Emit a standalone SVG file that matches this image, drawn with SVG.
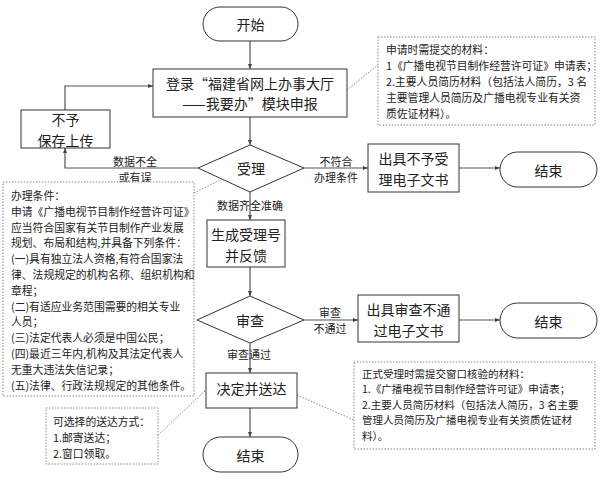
<svg xmlns="http://www.w3.org/2000/svg" width="600" height="504" viewBox="0 0 600 504">
<style>
text{font-family:"Noto Sans CJK SC","Noto Sans",sans-serif;fill:#222;dominant-baseline:central}
.n{fill:#fff;stroke:#333;stroke-width:1}
.t{font-size:14px;text-anchor:middle}
.lbl{font-size:11px;text-anchor:middle}
.note{fill:#fff;stroke:#888;stroke-width:1;stroke-dasharray:1.5,1.5}
.nt{font-size:10.8px}
.nt4{font-size:10.5px}
.c{fill:none;stroke:#555;stroke-width:1.2}
.d{fill:none;stroke:#888;stroke-width:1;stroke-dasharray:1.5,1.5}
</style>
<defs>
<marker id="a" viewBox="0 0 10 10" refX="10" refY="5" markerWidth="5" markerHeight="5" orient="auto" markerUnits="userSpaceOnUse">
<path d="M0,1 L10,5 L0,9 z" fill="#444"/>
</marker>
</defs>
<rect width="600" height="504" fill="#fff"/>
<g id="connectors">
<path class="c" d="M250,41 V69" marker-end="url(#a)"/>
<path class="c" d="M250,117 V145" marker-end="url(#a)"/>
<path class="c" d="M198,168 H65 V148" marker-end="url(#a)"/>
<path class="c" d="M65,110 V86 H153" marker-end="url(#a)"/>
<path class="c" d="M304,168 H368" marker-end="url(#a)"/>
<path class="c" d="M459,168 H500" marker-end="url(#a)"/>
<path class="c" d="M250,192 V220" marker-end="url(#a)"/>
<path class="c" d="M250,267 V296" marker-end="url(#a)"/>
<path class="c" d="M304,320 H358" marker-end="url(#a)"/>
<path class="c" d="M459,320 H500" marker-end="url(#a)"/>
<path class="c" d="M250,343 V373" marker-end="url(#a)"/>
<path class="c" d="M250,408 V437" marker-end="url(#a)"/>
<path class="d" d="M347,90 L378,65"/>
<path class="d" d="M194,193 L220,180"/>
<path class="d" d="M158,435 L206,390"/>
<path class="d" d="M297,395 L354,420"/>
<text class="lbl" x="135" y="161">数据不全</text>
<text class="lbl" x="135" y="177">或有误</text>
<text class="lbl" x="336" y="161">不符合</text>
<text class="lbl" x="336" y="177">办理条件</text>
<text class="lbl" x="250" y="205">数据齐全准确</text>
<text class="lbl" x="330" y="312">审查</text>
<text class="lbl" x="330" y="328">不通过</text>
<text class="lbl" x="249" y="354">审查通过</text>
</g>
<g id="start">
<rect class="n" x="203" y="7" width="95" height="34" rx="17"/>
<text class="t" x="250.5" y="24">开始</text>
</g>
<g id="login">
<rect class="n" x="153" y="69" width="194" height="48"/>
<text class="t" x="250" y="82.5">登录“福建省网上办事大厅</text>
<text class="t" x="250" y="103">——我要办”模块申报</text>
</g>
<g id="note1">
<rect class="note" x="378" y="37" width="217" height="88"/>
<text class="nt" x="386" y="49">申请时需提交的材料：</text>
<text class="nt" x="386" y="65">1《广播电视节目制作经营许可证》申请表；</text>
<text class="nt" x="386" y="81">2.主要人员简历材料（包括法人简历，3 名</text>
<text class="nt" x="386" y="97">主要管理人员简历及广播电视专业有关资</text>
<text class="nt" x="386" y="113">质佐证材料）。</text>
</g>
<g id="reject-save">
<rect class="n" x="21" y="110" width="89" height="38"/>
<text class="t" x="65.5" y="119">不予</text>
<text class="t" x="65.5" y="139.5">保存上传</text>
</g>
<g id="accept">
<path class="n" d="M250,145 L304,168 L250,192 L198,168 z"/>
<text class="t" x="251" y="168">受理</text>
</g>
<g id="reject-doc">
<rect class="n" x="368" y="144" width="91" height="48"/>
<text class="t" x="413.5" y="158">出具不予受</text>
<text class="t" x="413.5" y="179">理电子文书</text>
</g>
<g id="end1">
<rect class="n" x="500" y="152" width="97" height="35" rx="17.5"/>
<text class="t" x="548.5" y="169.5">结束</text>
</g>
<g id="note2">
<rect class="note" x="3" y="182" width="191" height="214"/>
<text class="nt" x="11" y="195">办理条件：</text>
<text class="nt" x="11" y="210.8">申请《广播电视节目制作经营许可证》</text>
<text class="nt" x="11" y="226.6">应当符合国家有关节目制作产业发展</text>
<text class="nt" x="11" y="242.4">规划、布局和结构,并具备下列条件：</text>
<text class="nt" x="11" y="258.2">(一)具有独立法人资格,有符合国家法</text>
<text class="nt" x="11" y="274">律、法规规定的机构名称、组织机构和</text>
<text class="nt" x="11" y="289.8">章程；</text>
<text class="nt" x="11" y="305.6">(二)有适应业务范围需要的相关专业</text>
<text class="nt" x="11" y="321.4">人员；</text>
<text class="nt" x="11" y="337.2">(三)法定代表人必须是中国公民；</text>
<text class="nt" x="11" y="353">(四)最近三年内,机构及其法定代表人</text>
<text class="nt" x="11" y="368.8">无重大违法失信记录；</text>
<text class="nt" x="11" y="384.6">(五)法律、行政法规规定的其他条件。</text>
</g>
<g id="generate">
<rect class="n" x="207" y="220" width="78" height="47"/>
<text class="t" x="246" y="234">生成受理号</text>
<text class="t" x="246" y="255">并反馈</text>
</g>
<g id="review">
<path class="n" d="M250,296 L304,320 L250,343 L197,320 z"/>
<text class="t" x="250" y="320">审查</text>
</g>
<g id="review-fail-doc">
<rect class="n" x="358" y="295" width="101" height="47"/>
<text class="t" x="408.5" y="309">出具审查不通</text>
<text class="t" x="408.5" y="330">过电子文书</text>
</g>
<g id="end2">
<rect class="n" x="500" y="303" width="97" height="35" rx="17.5"/>
<text class="t" x="548.5" y="320.5">结束</text>
</g>
<g id="decide">
<rect class="n" x="206" y="373" width="91" height="35"/>
<text class="t" x="251.5" y="388">决定并送达</text>
</g>
<g id="note3">
<rect class="note" x="46" y="408" width="112" height="56"/>
<text class="nt" x="53" y="421">可选择的送达方式：</text>
<text class="nt" x="53" y="437">1.邮寄送达；</text>
<text class="nt" x="53" y="453">2.窗口领取。</text>
</g>
<g id="note4">
<rect class="note" x="354" y="362" width="241" height="87"/>
<text class="nt4" x="362" y="373">正式受理时需提交窗口核验的材料：</text>
<text class="nt4" x="362" y="388.5">1.《广播电视节目制作经营许可证》申请表；</text>
<text class="nt4" x="362" y="404">2.主要人员简历材料（包括法人简历，3 名主要</text>
<text class="nt4" x="362" y="419.5">管理人员简历及广播电视专业有关资质佐证材</text>
<text class="nt4" x="362" y="435">料）。</text>
</g>
<g id="end3">
<rect class="n" x="203" y="437" width="95" height="35" rx="17.5"/>
<text class="t" x="250.5" y="454.5">结束</text>
</g>
</svg>
